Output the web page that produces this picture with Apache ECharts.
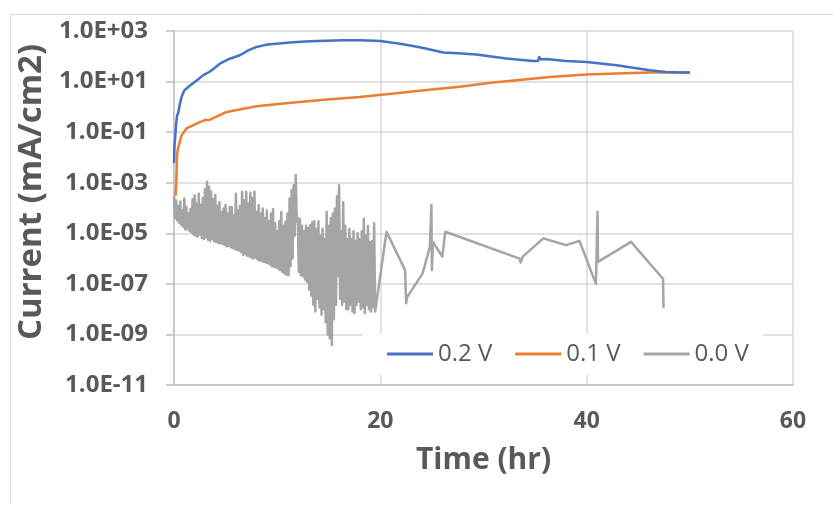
<!DOCTYPE html>
<html>
<head>
<meta charset="utf-8">
<script src="https://cdn.jsdelivr.net/npm/echarts@6/dist/echarts.min.js"></script>
<style>html,body{margin:0;padding:0;background:#fff;}#c{width:833px;height:505px;}</style>
</head>
<body>
<div id="c"></div>
<script>
// ---- data (time in hr, current in mA/cm2) ----
const seriesNames = ['0.2 V', '0.1 V', '0.0 V'];
const xTicks = [0, 20, 40, 60];
const yTickExponents = [-11, -9, -7, -5, -3, -1, 1, 3];

const curve02V = [
  [0.0,6e-3],[0.05,3e-2],[0.1,5e-2],[0.2,0.2],[0.3,0.45],[0.42,0.6],[0.55,1.2],[0.74,2.5],[1.0,4.5],
  [1.55,7],[2.2,11],[2.84,18],[3.5,25],[4.45,51],[5.4,80],[6.39,110],[7.2,170],[8.0,234],[9.0,290],
  [9.94,316],[11.5,360],[13.2,390],[16.4,427],[18.0,430],[18.7,420],[19.5,410],[20.0,400],[21.9,316],
  [23.3,250],[24.5,200],[26.1,141],[27.5,132],[29.3,117],[32.2,81],[34.8,65],[35.3,65],[35.4,93],
  [35.6,75],[36.0,78],[38.0,65],[40.0,59],[42.9,44],[46.1,28],[47.7,24],[49.0,23],[50.0,23]
];

const curve01V = [
  [0.15,3e-4],[0.22,8e-4],[0.28,1e-2],[0.35,2e-2],[0.42,2.2e-2],[0.74,7.6e-2],[1.2,0.14],[2.5,0.25],
  [3.0,0.3],[3.5,0.31],[5.1,0.63],[8.0,1.05],[10.6,1.35],[14.8,1.95],[18.0,2.45],[21.3,3.4],[24.5,4.6],
  [27.7,6.2],[30.9,9.1],[32.5,10.5],[36.4,15],[40.0,19],[42.9,21],[46.1,23],[50.0,23]
];

const curve00V = [
  [0.0,3e-4],[0.1,4e-5],[0.2,2e-4],[0.3,3.2e-5],[0.4,1.2e-4],[0.5,2.6e-5],[0.6,1.8e-4],[0.7,2.2e-5],[0.8,8e-5],[0.9,1.8e-5],
  [1.0,2.4e-4],[1.1,1.4e-5],[1.2,1.1e-4],[1.3,1.5e-5],[1.4,6e-5],[1.5,1.2e-5],[1.6,9e-5],[1.7,1.1e-5],[1.8,2.2e-4],[1.9,9e-6],
  [2.0,3.2e-4],[2.1,8e-6],[2.2,1.5e-4],[2.3,7.5e-6],[2.4,3.7e-4],[2.5,9e-6],[2.6,1.3e-4],[2.7,6.5e-6],[2.8,2.5e-4],[2.9,6e-6],
  [3.0,5.5e-4],[3.1,7e-6],[3.2,1.1e-3],[3.3,5.5e-6],[3.4,7e-4],[3.5,5e-6],[3.6,4.5e-4],[3.7,6e-6],[3.8,2.2e-4],[3.9,4.8e-6],
  [4.0,3.3e-4],[4.1,4.5e-6],[4.2,1.2e-4],[4.3,4.2e-6],[4.4,1.7e-4],[4.5,4e-6],[4.6,7e-5],[4.7,3.8e-6],[4.8,9.5e-5],[4.9,3.5e-6],
  [5.0,1.3e-4],[5.1,3e-6],[5.2,6e-5],[5.3,3.2e-6],[5.4,1.1e-4],[5.5,2.8e-6],[5.6,1.1e-4],[5.7,2.6e-6],[5.8,5e-5],[5.9,2.4e-6],
  [6.0,3.7e-4],[6.1,2.2e-6],[6.2,8e-5],[6.3,2.1e-6],[6.4,1.2e-4],[6.5,1.8e-6],[6.6,4.4e-4],[6.7,1.4e-6],[6.8,2e-4],[6.9,1.5e-6],
  [7.0,4.4e-4],[7.1,1.3e-6],[7.2,1.5e-4],[7.3,1.2e-6],[7.4,4e-4],[7.5,1.1e-6],[7.6,2.5e-4],[7.7,1e-6],[7.8,4.4e-4],[7.9,1.1e-6],
  [8.0,7e-5],[8.1,9e-7],[8.2,1.3e-4],[8.3,8.5e-7],[8.4,6e-5],[8.5,8e-7],[8.6,9.5e-5],[8.7,7.5e-7],[8.8,4e-5],[8.9,7e-7],
  [9.0,8e-5],[9.1,6.5e-7],[9.2,3e-5],[9.3,6e-7],[9.4,6e-5],[9.5,5e-7],[9.6,9e-5],[9.7,4.8e-7],[9.8,2.5e-5],[9.9,4.5e-7],
  [10.0,1.2e-5],[10.1,4e-7],[10.2,3e-5],[10.3,3.5e-7],[10.4,7e-5],[10.5,3e-7],[10.6,2e-5],[10.7,2.6e-7],[10.8,2.8e-5],[10.9,2.3e-7],
  [11.0,6e-5],[11.1,2.2e-7],[11.2,2.4e-4],[11.3,5e-7],[11.4,5e-4],[11.5,1e-6],[11.6,8e-4],[11.7,8e-6],[11.8,2e-3],[11.9,3e-5],
  [12.0,4e-5],[12.1,3e-7],[12.2,3.8e-5],[12.3,2.2e-7],[12.4,2e-5],[12.5,2e-7],[12.6,1.2e-5],[12.7,1.5e-7],[12.8,2e-5],[12.9,1.2e-7],
  [13.0,1.6e-5],[13.1,6e-8],[13.2,2.1e-5],[13.3,3.5e-8],[13.4,2.8e-5],[13.5,1.5e-8],[13.6,3e-5],[13.7,8e-9],[13.8,1.5e-5],[13.9,2.6e-8],
  [14.0,3e-5],[14.1,1.2e-8],[14.2,8e-6],[14.3,6e-9],[14.4,1.5e-5],[14.5,1e-8],[14.6,6e-6],[14.7,3e-9],[14.8,7e-5],[14.9,1e-9],
  [15.0,2e-5],[15.1,7e-10],[15.2,4e-5],[15.3,3.8e-10],[15.4,6e-5],[15.5,4e-9],[15.6,9.5e-5],[15.7,1.5e-8],[15.8,3e-4],[15.9,2e-7],
  [16.0,8e-4],[16.1,2.6e-8],[16.2,1.2e-5],[16.3,1.5e-8],[16.4,1.7e-4],[16.5,2e-8],[16.6,2e-5],[16.7,1e-8],[16.8,6e-6],[16.9,1e-8],
  [17.0,1.5e-5],[17.1,1.5e-8],[17.2,6e-6],[17.3,8e-9],[17.4,1.2e-5],[17.5,7e-9],[17.6,5e-6],[17.7,1.5e-8],[17.8,1e-5],[17.9,2e-8],
  [18.0,6e-6],[18.1,1e-8],[18.2,1.2e-5],[18.3,1.2e-8],[18.4,3.8e-5],[18.5,7e-9],[18.6,8e-6],[18.7,1.5e-8],[18.8,2e-5],[18.9,1e-8],
  [19.0,4.5e-6],[19.1,8e-9],[19.2,5e-6],[19.3,1.2e-8],[19.4,2.5e-5],[19.5,8e-9],[19.6,9e-9],
  [20.6,1.15e-5],[22.4,3.5e-7],[22.5,1.7e-8],[22.6,3e-8],[24.1,2.6e-7],[24.8,2.9e-6],[24.95,1.3e-4],[25.0,3.5e-7],
  [25.1,4.6e-6],[26.0,1.2e-6],[26.3,1.15e-5],[33.5,1e-6],[33.6,7e-7],[33.8,1.2e-6],[35.8,6.3e-6],[38.0,3.4e-6],
  [39.3,5e-6],[40.9,1e-7],[41.05,7e-5],[41.1,7.4e-7],[44.3,4.6e-6],[47.4,1.6e-7],[47.45,1.1e-8]
];

const colors = ['#4472C4', '#ED7D31', '#A5A5A5'];
const FONT = '"Open Sans", "Liberation Sans", sans-serif';
const TXT = '#595959';

function fmtSci(v) {
  const e = Math.round(Math.log10(v));
  const a = Math.abs(e);
  return '1.0E' + (e < 0 ? '-' : '+') + (a < 10 ? '0' : '') + a;
}

const chart = echarts.init(document.getElementById('c'), null, {renderer: 'canvas'});
const mkSeries = (name, data, color) => ({
  name: name, type: 'line', data: data, showSymbol: false, symbol: 'none',
  lineStyle: {color: color, width: 2.5, join: 'round'}, itemStyle: {color: color},
  animation: false
});

chart.setOption({
  backgroundColor: '#fff',
  animation: false,
  graphic: [{
    type: 'rect', left: 8, top: 12, shape: {width: 900, height: 600},
    style: {fill: 'none', stroke: '#d9d9d9', lineWidth: 1}, silent: true, z: -10
  }],
  grid: {left: 174, right: 40, top: 31, bottom: 120, containLabel: false},
  legend: {
    data: seriesNames.map(n => ({name: n, icon: 'rect'})),
    left: 363, top: 333,
    padding: [9, 14, 9, 24],
    backgroundColor: '#fff',
    itemWidth: 46, itemHeight: 3, itemGap: 23,
    textStyle: {fontFamily: FONT, fontSize: 24, color: TXT}
  },
  xAxis: {
    type: 'value', min: xTicks[0], max: xTicks[xTicks.length - 1], interval: 20,
    name: 'Time (hr)', nameLocation: 'middle', nameGap: 60,
    nameTextStyle: {fontFamily: FONT, fontSize: 30, fontWeight: 'bold', color: TXT},
    axisLine: {show: true, lineStyle: {color: '#bfbfbf', width: 1.5}},
    axisTick: {show: false},
    axisLabel: {fontFamily: FONT, fontSize: 23, fontWeight: 'bold', color: TXT, margin: 25},
    splitLine: {show: true, lineStyle: {color: '#d9d9d9', width: 1.5}}
  },
  yAxis: {
    type: 'log', logBase: 10,
    min: Math.pow(10, yTickExponents[0]), max: Math.pow(10, yTickExponents[yTickExponents.length - 1]),
    interval: 2,
    name: 'Current (mA/cm2)', nameLocation: 'middle', nameGap: 121,
    nameTextStyle: {fontFamily: FONT, fontSize: 33, fontWeight: 'bold', color: TXT, padding: [0, 0, 0, 32]},
    axisLine: {show: true, lineStyle: {color: '#bfbfbf', width: 1.5}},
    axisTick: {show: true, inside: false, length: 8, lineStyle: {color: '#bfbfbf', width: 1.5}},
    minorTick: {show: false},
    axisLabel: {fontFamily: FONT, fontSize: 24, fontWeight: 'bold', color: TXT, margin: 26, formatter: fmtSci},
    splitLine: {show: true, lineStyle: {color: '#d9d9d9', width: 1.5}}
  },
  series: [
    mkSeries(seriesNames[2], curve00V, colors[2]),
    mkSeries(seriesNames[1], curve01V, colors[1]),
    mkSeries(seriesNames[0], curve02V, colors[0])
  ]
});
</script>
</body>
</html>
